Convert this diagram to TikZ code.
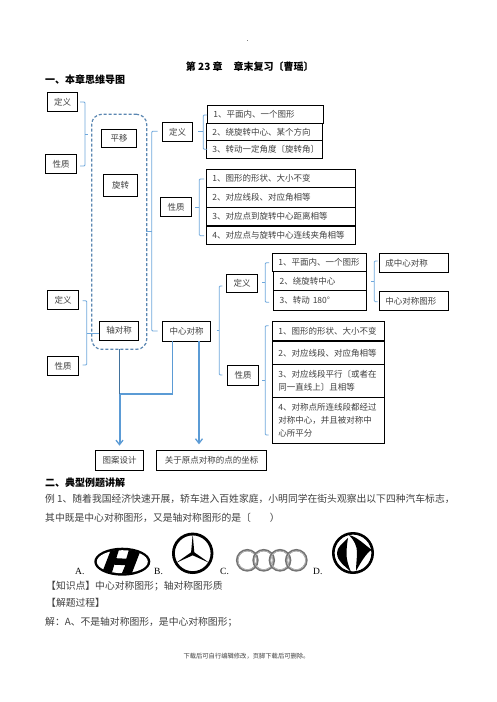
\documentclass[tikz,border=0pt]{standalone}
\usepackage{fontspec}
\setmainfont{Noto Sans CJK SC}
\newfontfamily\latfont{Liberation Serif}
\usetikzlibrary{arrows.meta}
\definecolor{brc}{HTML}{6FA8DC}
\definecolor{arw}{HTML}{5B9BD5}
\definecolor{dsh}{HTML}{5B87B2}
\definecolor{drk}{HTML}{41719C}
\definecolor{txt}{gray}{0.25}
\tikzset{
  boxnode/.style={draw=black,line width=0.9pt,inner sep=0pt,outer sep=0pt,text=txt,font=\fontsize{8.5}{13}\selectfont},
  brcline/.style={draw=brc,line width=0.8pt,rounded corners=1pt},
  arwline/.style={draw=arw,line width=1.5pt},
  arwtip/.style={-{Straight Barb[length=4.5pt,width=7pt,line width=1.3pt]}},
  bodytext/.style={anchor=west,inner sep=0pt,text=txt,font=\fontsize{9.8}{12}\selectfont},
  headtext/.style={anchor=west,inner sep=0pt,text=black,font=\fontsize{10}{12}\selectfont\bfseries},
  logotext/.style={anchor=west,inner sep=0pt,text=black,font=\fontsize{9.5}{12}\selectfont\latfont},
}
% centred box: name x0 y0 x1 y1 text
\newcommand{\cbox}[6]{\node[boxnode,minimum width={(#4-#2)*1pt},minimum height={(#5-#3)*1pt},align=center] (#1) at ({(#2+#4)/2},{(#3+#5)/2}) {#6};}
% left-aligned box
\newcommand{\lbox}[6]{\node[boxnode,minimum width={(#4-#2)*1pt},minimum height={(#5-#3)*1pt},text width={(#4-#2-12)*1pt},align=left] (#1) at ({(#2+#4)/2},{(#3+#5)/2}) {#6};}
% bracket: name xstem xspine xtip ytop ybot ymid
\newcommand{\brk}[7]{%
  \coordinate (#1t) at (#4,#5);\coordinate (#1b) at (#4,#6);
  \coordinate (#1m) at (#3,#7);\coordinate (#1s) at (#2,#7);
  \draw[brcline] (#1t) -- (#3,#5) -- (#3,#6) -- (#1b);
  \draw[brcline] (#1s) -- (#1m);}
\begin{document}
\begin{tikzpicture}[x=1pt,y=-1pt]
\useasboundingbox (0,0) rectangle (496,702);
\fill[white] (0,0) rectangle (496,702);
\fill[black!50] (247,40) rectangle (248,41);

% headings
\node[headtext] (title) at (185.7,66.7) {第 23 章\hspace{11pt}章末复习〔曹瑶〕};
\node[headtext] (h1) at (45,79.7) {一、本章思维导图};

% left column
\cbox{ldef}{47.3}{92.3}{77.7}{111.3}{定义}
\cbox{lpro}{45.3}{154.3}{76.7}{173.3}{性质}
\node[draw=dsh,dash pattern=on 3pt off 2pt,line width=1.2pt,rounded corners=10pt,inner sep=0pt,outer sep=0pt,minimum width=55pt,minimum height=235pt] (dash) at (119.2,231.8) {};
\cbox{pingyi}{101.3}{129.3}{136.7}{147.3}{平移}
\cbox{xuanzhuan}{103.3}{174.3}{137.7}{196.3}{旋转}
\cbox{zhou}{99.3}{321}{138.7}{340.3}{轴对称}
\cbox{ldef2}{47.3}{290.3}{78.7}{309.3}{定义}
\cbox{lpro2}{47.3}{356.3}{78.7}{375.3}{性质}

% rotation branch
\cbox{mdef}{162.3}{122.3}{192.7}{141.3}{定义}
\cbox{mpro}{160.3}{197.3}{191.7}{216.3}{性质}
\lbox{d1}{207.3}{105.3}{323.7}{123.7}{1、平面内、一个图形}
\lbox{d2}{206.3}{123.7}{322.7}{140.7}{2、绕旋转中心、某个方向}
\lbox{d3}{206.3}{140.7}{322.7}{158.3}{3、转动一定角度〔旋转角〕}
\lbox{p1}{206.3}{169.3}{355.3}{187.3}{1、图形的形状、大小不变}
\lbox{p2}{206.3}{187.3}{355.3}{207.3}{2、对应线段、对应角相等}
\lbox{p3}{206.3}{207.3}{355.3}{225.7}{3、对应点到旋转中心距离相等}
\lbox{p4}{206.3}{226.7}{355.3}{244.7}{4、对应点与旋转中心连线夹角相等}

% centre symmetry branch
\cbox{center}{162.3}{321.3}{210.7}{341.3}{中心对称}
\cbox{cdef}{226.3}{274.3}{257.7}{292.7}{定义}
\cbox{cpro}{227.3}{365.7}{258.7}{385.3}{性质}
\lbox{e1}{272.3}{253.3}{366.7}{271.7}{1、平面内、一个图形}
\lbox{e2}{273.7}{271.7}{366.7}{290.7}{2、绕旋转中心}
\lbox{e3}{273.7}{290.7}{366.7}{310.3}{3、转动 180°}
\lbox{r1}{379.3}{253.7}{448.3}{272.3}{成中心对称}
\lbox{r2}{379.3}{291.3}{448.3}{310.3}{中心对称图形}
\lbox{q1}{272.3}{321.3}{384.3}{340.3}{1、图形的形状、大小不变}
\lbox{q2}{272.3}{341.3}{384.3}{364.3}{2、对应线段、对应角相等}
\lbox{q3}{272.3}{364.3}{384.3}{397.3}{3、对应线段平行〔或者在\\同一直线上〕且相等}
\lbox{q4}{272.3}{397.3}{384.3}{443.3}{4、对称点所连线段都经过\\对称中心，并且被对称中\\心所平分}

% bottom boxes
\cbox{pat}{95.7}{450.3}{143.3}{470.3}{图案设计}
\cbox{coord}{156.7}{450.3}{266.3}{470.3}{关于原点对称的点的坐标}

% brackets
\brk{ba}{87.7}{85}{80}{102}{166}{134}
\brk{bb}{99.3}{86.7}{82.7}{300.7}{365}{333}
\brk{bc}{146}{151.7}{157.7}{131.3}{331}{231.7}
\brk{bd}{198.3}{203.3}{207}{115}{149.3}{131.7}
\brk{be}{195.3}{199.3}{204}{179}{235.7}{207}
\brk{bf}{216.7}{219.3}{222.3}{286}{375}{330.3}
\brk{bg}{262.3}{265.3}{269}{262.7}{302.3}{282.3}
\brk{bh}{371.3}{374.3}{377.7}{261}{301.7}{281.7}
\brk{bi}{262.3}{265.3}{268.7}{325.7}{435}{380.7}

% arrows
\coordinate (cs1) at (172.3,341.3);
\coordinate (cs2) at (199,341.3);
\coordinate (jn) at (119.5,394);
\coordinate (ds) at (119.5,349.3);
\draw[arwline] (cs1) -- (172.3,394) -- (jn);
\draw[arwline,line width=2pt,arwtip,shorten >=4.6pt] (jn) -- (jn |- pat.north);
\draw[draw=drk,line width=1.7pt] (ds) -- (jn);
\draw[arwline,arwtip,shorten >=6pt] (cs2) -- (cs2 |- coord.north);

% text
\node[headtext] (h2) at (45,482.7) {二、典型例题讲解};
\node[bodytext] (l1) at (45,499) {例 1、随着我国经济快速开展，轿车进入百姓家庭，小明同学在街头观察出以下四种汽车标志，};
\node[bodytext] (l2) at (45,517.7) {其中既是中心对称图形，又是轴对称图形的是〔\hspace{19pt}）};
\node[logotext] (la) at (75,571.5) {A.};
\node[logotext] (lb) at (154,571.5) {B.};
\node[logotext] (lc) at (220,571.5) {C.};
\node[logotext] (ld) at (313,571.5) {D.};
\node[bodytext] (k1) at (46,586.3) {【知识点】中心对称图形；轴对称图形质};
\node[bodytext] (k2) at (46,602.7) {【解题过程】};
\node[bodytext] (k3) at (45,621.7) {解：A、不是轴对称图形，是中心对称图形；};
\node[anchor=center,inner sep=0pt,text=txt,font=\fontsize{6.3}{8}\selectfont] (foot) at (246.5,655.7) {下载后可自行编辑修改，页脚下载后可删除。};

% logo A
\begin{scope}[shift={(122.3,561.7)}]
  \fill[black] (0,0) ellipse [x radius=28,y radius=14];
  \fill[white] (0,0) ellipse [x radius=25.5,y radius=11.5];
  \begin{scope}
    \clip (0,0) ellipse [x radius=26,y radius=12];
    \fill[black] (-11,-13) -- (-3,-13) -- (-6,-3.5) -- (4,-3) -- (7,-13) -- (19,-13) -- (9,13) -- (-1,13) -- (3,3.5) -- (-8,3) -- (-11,13) -- (-21,13) -- cycle;
  \end{scope}
\end{scope}

% logo B
\begin{scope}[shift={(192.7,553.3)}]
  \draw[black,line width=2.8pt] (0,0) circle [radius=19.3];
  \fill[black] (0,-19) -- (1.6,-1) -- (16.5,9.5) -- (0,2) -- (-16.5,9.5) -- (-1.6,-1) -- cycle;
\end{scope}

% logo C
\begin{scope}[shift={(0,560.3)}]
  \foreach \cx in {247.3,263.7,280,296.3}{
    \draw[black!55,line width=2.3pt] (\cx,0) circle [radius=10.2];
    \draw[black!25,line width=0.6pt] (\cx,0) circle [radius=9.5];
  }
\end{scope}

% logo D
\begin{scope}[shift={(353,553)}]
  \draw[black,line width=2.6pt] (0,0) circle [radius=19.7];
  \fill[black] (-5,-15) .. controls (-10,-10) and (-16,-6) .. (-16,0) .. controls (-16,8) and (-8,13) .. (-2,19) .. controls (-5,12) and (-6.5,6) .. (-6.5,1) .. controls (-6.5,-4) and (-6,-9) .. (-5,-15) -- cycle;
  \fill[black] (-4,-18) .. controls (4,-16) and (11,-9) .. (18.7,-3) .. controls (14,-1) and (8,9) .. (3,18) .. controls (3,12) and (4,5) .. (4,-1) .. controls (4,-7) and (1,-13) .. (-4,-18) -- cycle;
\end{scope}
\end{tikzpicture}
\end{document}
